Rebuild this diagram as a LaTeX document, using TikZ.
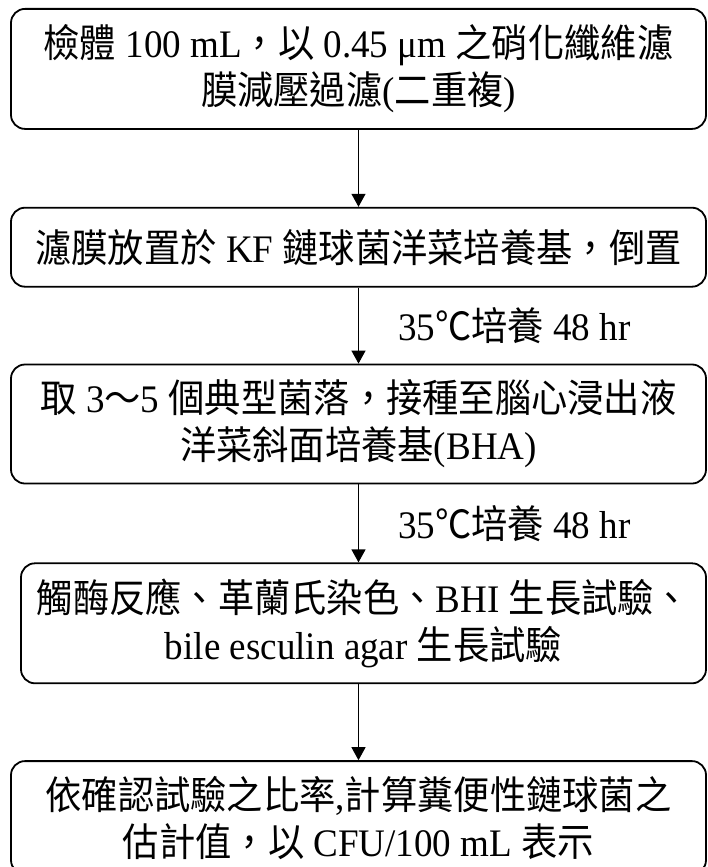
\documentclass[tikz,border=0pt]{standalone}
\usepackage{fontspec}
\setmainfont{Liberation Serif}[FakeStretch=0.95]
\newfontfamily\cjk{Noto Sans CJK TC}[FakeStretch=0.93]
\usepackage{tikz}
\usetikzlibrary{positioning,arrows.meta}

\begin{document}
\begin{tikzpicture}[
    x=1pt, y=1pt,
    node distance=77pt, % gap between boxes
    stepbox/.style={rectangle,draw,line width=1.8pt,rounded corners=14pt,minimum width=695pt,align=center,inner sep=0pt,font=\fontsize{39}{47}\selectfont},
    flow/.style={-{Triangle[length=13pt,width=14pt]},line width=1.2pt},
    note/.style={inner sep=2pt,font=\fontsize{39}{40}\selectfont}
]
    \useasboundingbox (0,0) rectangle (707,-867);

    % Steps of the procedure
    \node[stepbox,minimum height=120pt,anchor=north] (sample) at (358.5,-8) {{\cjk 檢體} 100 mL{\cjk ，以} 0.45 μm {\cjk 之硝化纖維濾}\\{\cjk 膜減壓過濾}({\cjk 二重複})};
    \node[stepbox,minimum height=79pt] (plate) [below=of sample] {{\cjk 濾膜放置於} KF {\cjk 鏈球菌洋菜培養基，倒置}};
    \node[stepbox,minimum height=119pt,node distance=76pt] (slant) [below=of plate] {{\cjk 取} 3{\cjk ～}5 {\cjk 個典型菌落，接種至腦心浸出液}\\{\cjk 洋菜斜面培養基}(BHA)};
    \node[stepbox,minimum height=120pt,minimum width=685pt,node distance=78pt] (tests) [below=of slant,xshift=5pt] {{\cjk 觸酶反應、革蘭氏染色、}BHI {\cjk 生長試驗、}\\bile esculin agar {\cjk 生長試驗}};
    \node[stepbox,minimum height=113pt,node distance=76pt] (result) [below=of tests,xshift=-5pt] {{\cjk 依確認試驗之比率},{\cjk 計算糞便性鏈球菌之}\\{\cjk 估計值，以} CFU/100 mL {\cjk 表示}};

    % Arrows with incubation notes
    \draw[flow] (sample) -- (plate);
    \draw[flow] (plate) -- node[note,right=37pt] {35{\cjk ℃培養} 48 hr} (slant);
    \draw[flow] (slant) -- node[note,right=37pt] {35{\cjk ℃培養} 48 hr} (slant |- tests.north);
    \draw[flow] (result |- tests.south) -- (result);
\end{tikzpicture}
\end{document}
